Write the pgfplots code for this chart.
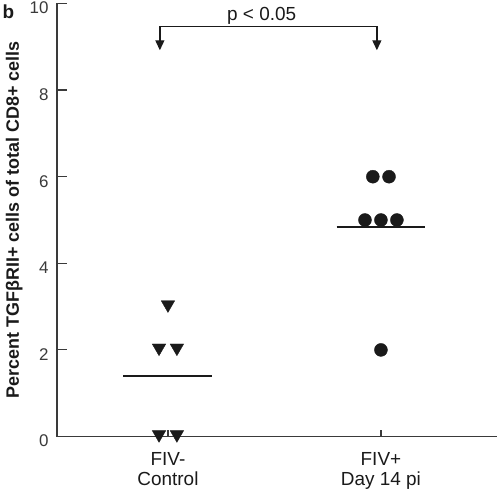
\documentclass[border=0pt]{standalone}
\usepackage{fontspec}
\setmainfont{Liberation Sans}
\usepackage{pgfplots}
\pgfplotsset{compat=1.18}
\usetikzlibrary{arrows.meta}
\definecolor{axgray}{HTML}{3A3A3A}
\definecolor{mk}{HTML}{1A1A1A}
\begin{document}
\begin{tikzpicture}
\begin{axis}[
  scale only axis, width=440bp, height=433bp,
  xmin=0.479, xmax=2.545, ymin=0, ymax=10,
  axis x line*=bottom, axis y line*=left,
  axis line style={line width=1.5bp, color=axgray},
  xtick={1,2}, xticklabels={{FIV-\\Control},{FIV+\\Day 14 pi}},
  ytick={0,2,4,6,8,10},
  tick align=inside, major tick length=10bp,
  tick style={line width=1.2bp, color=axgray},
  xtick style={/pgfplots/major tick length=7bp},
  /pgf/number format/assume math mode=true,
  yticklabel style={font=\fontsize{17}{19}\selectfont, xshift=-5bp, yshift=-4.5bp, color=axgray},
  xticklabel style={font=\fontsize{19}{21}\selectfont, align=center, color=mk, yshift=-12bp},
  ylabel={Percent TGFβRII+ cells of total CD8+ cells},
  ylabel style={font=\fontsize{18}{20}\selectfont\bfseries, at={(axis description cs:-0.0864,0.5)}, anchor=base, color=mk},
  clip=false,
]
% FIV- Control (triangles down)
\addplot[only marks, mark=triangle*, mark size=7.8bp, color=mk,
  mark options={yshift=2bp, rotate=180, fill=mk, draw=mk}]
  coordinates {(1.0,3) (0.958,2) (1.042,2) (0.958,0) (1.042,0)};
% FIV+ Day 14 pi (circles)
\addplot[only marks, mark=*, mark size=6.5bp, color=mk, mark options={fill=mk, draw=mk}]
  coordinates {(1.962,6) (2.038,6) (1.925,5) (2.0,5) (2.075,5) (2.0,2)};
% means
\addplot[mk, line width=1.6bp, no marks] coordinates {(0.789,1.4) (1.207,1.4)};
\addplot[mk, line width=1.6bp, no marks] coordinates {(1.792,4.833) (2.206,4.833)};
% significance bracket
\draw[mk, line width=1.4bp, {Triangle[width=9bp,length=10bp]}-{Triangle[width=9bp,length=10bp]}]
  (axis cs:0.962,8.92) -- (axis cs:0.962,9.475) -- (axis cs:1.981,9.475) -- (axis cs:1.981,8.92);
\node[anchor=base, font=\fontsize{19}{21}\selectfont, color=mk, inner sep=0pt] at (axis cs:1.44,9.60) {p < 0.05};
\end{axis}
\node[font=\fontsize{19}{21}\selectfont\bfseries, color=mk, inner sep=0pt]
  at ([shift={(-48.5bp,-8bp)}]current axis.north west) {b};
\pgfresetboundingbox
\path ([shift={(-57bp,-54.3bp)}]current axis.south west) rectangle ([shift={(2bp,3.5bp)}]current axis.north east);
\end{tikzpicture}
\end{document}
